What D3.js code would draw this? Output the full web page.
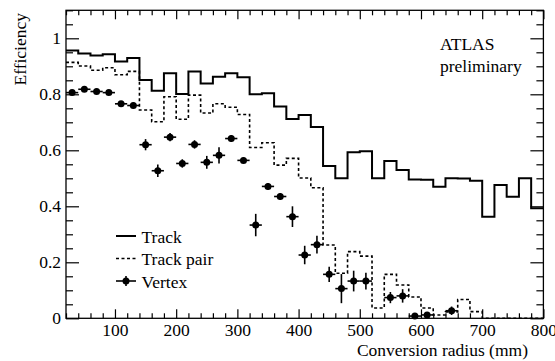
<!DOCTYPE html>
<html><head><meta charset="utf-8">
<script src="https://cdn.jsdelivr.net/npm/d3@7"></script>
<style>
html,body{margin:0;padding:0;background:#fff;}
svg{display:block;}
</style></head>
<body>
<svg id="c" width="555" height="361"></svg>
<script>
// ---- data ----
const binEdges = d3.range(20, 801, 20); // 20..800
const trackEff = [0.956,0.946,0.939,0.943,0.917,0.930,0.851,0.813,0.875,0.801,
  0.881,0.839,0.863,0.875,0.861,0.800,0.804,0.756,0.712,0.726,
  0.683,0.544,0.500,0.593,0.597,0.500,0.562,0.530,0.496,0.495,
  0.470,0.500,0.499,0.491,0.363,0.476,0.434,0.500,0.393];
const pairEff = [0.914,0.901,0.886,0.895,0.870,0.882,0.744,0.702,0.791,0.711,
  0.797,0.733,0.766,0.754,0.728,0.610,0.627,0.547,0.571,0.501,
  0.466,0.262,0.161,0.238,0.222,0.037,0.157,0.119,0.076,0.037,
  0.012,0.023,0.067,0.024,0,0,0,0,0];
const vtxR   = [30,50,70,90,110,130,150,170,190,210,230,250,270,290,310,330,350,370,390,410,430,450,470,490,510,550,570,590,610,650];
const vtxEff = [0.806,0.818,0.810,0.806,0.766,0.760,0.620,0.527,0.647,0.553,0.621,0.557,0.582,0.642,0.564,0.333,0.471,0.435,0.363,0.226,0.263,0.157,0.106,0.133,0.133,0.074,0.080,0.008,0.012,0.027];
const vtxErr = [0.008,0.008,0.008,0.008,0.01,0.01,0.02,0.022,0.015,0.015,0.015,0.023,0.029,0.012,0.01,0.04,0.012,0.012,0.037,0.033,0.032,0.027,0.052,0.037,0.03,0.02,0.024,0.008,0.008,0.015];
const xMajor = [100,200,300,400,500,600,700,800];
const yMajor = [0,0.2,0.4,0.6,0.8,1];
const yLabels = ["0","0.2","0.4","0.6","0.8","1"];
const legendItems = ["Track","Track pair","Vertex"];

// ---- layout ----
const FONT = '"Liberation Serif", "Times New Roman", Times, "DejaVu Serif", serif';
const L = 66, R = 543.4, T = 10.3, B = 318.3;
const x = d3.scaleLinear().domain([20, 800]).range([L, R]);
const y = d3.scaleLinear().domain([0, 1.1]).range([B, T]);
const svg = d3.select("#c");
const FS = 17.5;

function stepPath(vals){
  let p = "";
  vals.forEach((v,i)=>{
    const x0 = x(binEdges[i]), x1 = x(binEdges[i+1]), yy = y(v);
    p += (i===0 ? "M" : "L") + x0 + "," + yy + "L" + x1 + "," + yy;
  });
  return p;
}

// histograms
svg.append("path").attr("d", stepPath(pairEff)).attr("fill","none")
  .attr("stroke","#000").attr("stroke-width",1.6).attr("stroke-dasharray","3,2.5");
svg.append("path").attr("d", stepPath(trackEff)).attr("fill","none")
  .attr("stroke","#000").attr("stroke-width",2);

// vertex points
const g = svg.append("g");
vtxR.forEach((r,i)=>{
  g.append("line").attr("x1",x(r-10)).attr("x2",x(r+10)).attr("y1",y(vtxEff[i])).attr("y2",y(vtxEff[i]))
    .attr("stroke","#000").attr("stroke-width",1.6);
  g.append("line").attr("x1",x(r)).attr("x2",x(r)).attr("y1",y(Math.max(0,vtxEff[i]-vtxErr[i]))).attr("y2",y(vtxEff[i]+vtxErr[i]))
    .attr("stroke","#000").attr("stroke-width",1.6);
  g.append("circle").attr("cx",x(r)).attr("cy",y(vtxEff[i])).attr("r",3.5).attr("fill","#000");
});

// frame
svg.append("rect").attr("x",L).attr("y",T).attr("width",R-L).attr("height",B-T)
  .attr("fill","none").attr("stroke","#000").attr("stroke-width",1.3);

// axes
const xMinor = d3.range(20, 801, 20).filter(v=>v%100!==0);
const yMinor = d3.range(0, 1.1001, 0.05).map(v=>+v.toFixed(2)).filter(v=>Math.abs(v*5-Math.round(v*5))>1e-6);

function style(sel){
  sel.attr("font-family", FONT).attr("font-size", FS);
  sel.select(".domain").remove();
  sel.selectAll("line").attr("stroke","#000").attr("stroke-width",1.2);
  sel.selectAll("text").attr("font-family", FONT).attr("font-size", FS);
}

svg.append("g").attr("transform",`translate(0,${B})`)
  .call(d3.axisBottom(x).tickValues(xMajor).tickSize(-9).tickPadding(5).tickFormat(d3.format("d"))).call(style);
svg.append("g").attr("transform",`translate(0,${B})`)
  .call(d3.axisBottom(x).tickValues(xMinor).tickSize(-5).tickFormat("")).call(style);
svg.append("g").attr("transform",`translate(0,${T})`)
  .call(d3.axisTop(x).tickValues(xMajor).tickSize(-9).tickFormat("")).call(style);
svg.append("g").attr("transform",`translate(0,${T})`)
  .call(d3.axisTop(x).tickValues(xMinor).tickSize(-5).tickFormat("")).call(style);

svg.append("g").attr("transform",`translate(${L},0)`)
  .call(d3.axisLeft(y).tickValues(yMajor).tickSize(-13).tickPadding(5).tickFormat((d,i)=>yLabels[i])).call(style);
svg.append("g").attr("transform",`translate(${L},0)`)
  .call(d3.axisLeft(y).tickValues(yMinor).tickSize(-7).tickFormat("")).call(style);
svg.append("g").attr("transform",`translate(${R},0)`)
  .call(d3.axisRight(y).tickValues(yMajor).tickSize(-13).tickFormat("")).call(style);
svg.append("g").attr("transform",`translate(${R},0)`)
  .call(d3.axisRight(y).tickValues(yMinor).tickSize(-7).tickFormat("")).call(style);

function label(sel){ return sel.attr("font-family", FONT).attr("font-size", FS).attr("fill","#000"); }

// axis titles
svg.append("text").attr("x",528).attr("y",355.5).attr("text-anchor","end").call(label).text("Conversion radius (mm)");
svg.append("text").attr("transform","translate(25.5,13) rotate(-90)").attr("text-anchor","end").call(label).text("Efficiency");

// ATLAS label
svg.append("text").attr("x",440).attr("y",50).call(label).text("ATLAS");
svg.append("text").attr("x",440).attr("y",71.5).call(label).text("preliminary");

// legend
const lg = svg.append("g");
const ly = [236, 258.5, 281];
lg.append("line").attr("x1",116).attr("x2",136).attr("y1",ly[0]).attr("y2",ly[0]).attr("stroke","#000").attr("stroke-width",2);
lg.append("line").attr("x1",116).attr("x2",136).attr("y1",ly[1]).attr("y2",ly[1]).attr("stroke","#000").attr("stroke-width",1.6).attr("stroke-dasharray","3,2.5");
lg.append("line").attr("x1",116).attr("x2",136).attr("y1",ly[2]).attr("y2",ly[2]).attr("stroke","#000").attr("stroke-width",1.6);
lg.append("line").attr("x1",126).attr("x2",126).attr("y1",ly[2]-5).attr("y2",ly[2]+5).attr("stroke","#000").attr("stroke-width",1.6);
lg.append("circle").attr("cx",126).attr("cy",ly[2]).attr("r",3.5).attr("fill","#000");
legendItems.forEach((t,i)=>{
  lg.append("text").attr("x",141.5).attr("y",ly[i]+6.5).call(label).text(t);
});
</script>
</body></html>
